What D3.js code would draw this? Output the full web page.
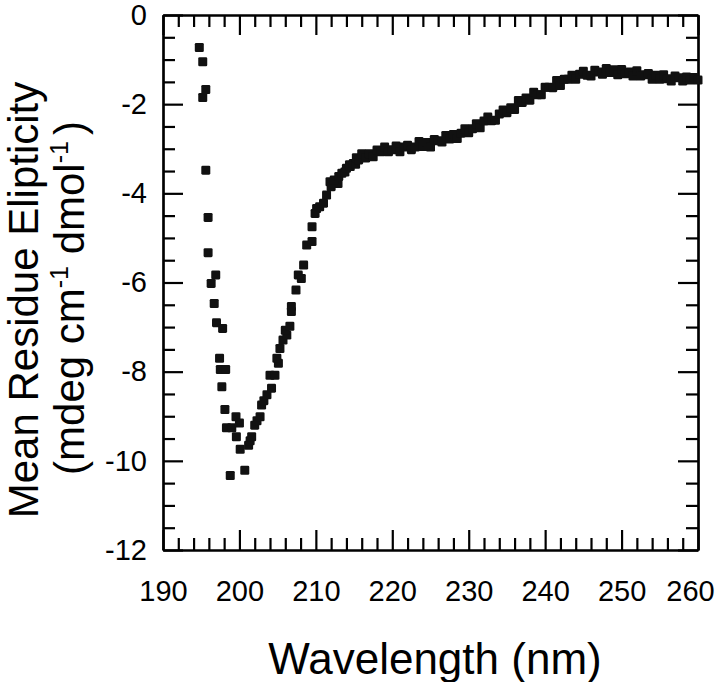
<!DOCTYPE html>
<html><head><meta charset="utf-8">
<script src="https://cdn.jsdelivr.net/npm/d3@7"></script>
<style>body{margin:0;background:#fff}</style>
</head><body>
<svg id="chart" width="720" height="682"></svg>
<script>
// CD spectrum points (wavelength in nm, mean residue ellipticity)
const wavelength = [
  194.75,195.2,195.6,195.2,195.6,195.9,195.9,196.9,196.3,196.7,197.0,197.8,197.4,197.5,198.2,197.7,198.1,198.3,199.0,
  199.55,200.0,199.6,198.8,200.1,200.7,201.2,201.4,201.6,202.0,202.3,202.7,202.9,203.2,203.6,204.2,204.0,204.65,205.1,
  204.9,205.3,205.7,206.2,206.0,206.6,206.8,206.8,207.4,208.1,207.7,208.4,208.8,209.5,209.5,209.9,210.1,210.5,211.0,
  211.4,212.9,211.85,212.0,212.4,213.0,213.4,213.8,214.0,214.4,214.5,214.9,215.2,215.3,215.6,
  216.0,216.5,217.0,217.5,218.0,218.5,219.0,219.5,220.0,220.5,221.0,221.5,222.0,222.5,223.0,223.5,224.0,224.5,
  225.0,225.5,226.0,226.5,227.0,227.5,228.0,228.5,229.0,229.5,230.0,230.5,231.0,231.5,232.0,232.5,233.0,233.5,
  234.0,234.5,235.0,235.5,236.0,236.5,237.0,237.5,238.0,238.5,239.0,239.5,240.0,240.5,241.0,241.5,242.0,242.5,
  243.0,243.5,244.0,244.5,245.0,245.5,246.0,246.5,247.0,247.5,248.0,248.5,249.0,249.5,250.0,250.5,251.0,251.5,
  252.0,252.5,253.0,253.5,254.0,254.5,255.0,255.5,256.0,256.5,257.0,257.5,258.0,258.5,259.0,259.5,260.0
];
const ellipticity = [
  -0.73,-1.05,-1.67,-1.85,-3.48,-4.54,-5.33,-5.83,-6.02,-6.47,-6.90,-7.03,-7.70,-7.95,-7.95,-8.34,-8.85,-9.26,-9.26,
  -9.01,-9.15,-9.46,-10.33,-9.74,-10.21,-9.65,-9.55,-9.46,-9.20,-9.10,-9.01,-8.75,-8.65,-8.52,-8.37,-8.08,-8.08,-7.81,
  -7.70,-7.48,-7.29,-7.18,-7.07,-6.98,-6.65,-6.54,-6.17,-5.91,-5.83,-5.61,-5.16,-5.08,-4.75,-4.45,-4.34,-4.30,-4.22,
  -4.04,-3.78,-3.74,-3.85,-3.70,-3.62,-3.55,-3.52,-3.44,-3.36,-3.40,-3.33,-3.35,-3.20,-3.25,
  -3.11,-3.21,-3.11,-3.18,-3.03,-3.07,-2.96,-3.07,-3.02,-2.94,-3.07,-2.96,-2.92,-3.02,-2.96,-2.84,-2.95,-2.86,
  -2.96,-2.79,-2.82,-2.85,-2.70,-2.78,-2.68,-2.77,-2.65,-2.55,-2.64,-2.55,-2.44,-2.53,-2.38,-2.29,-2.37,-2.36,
  -2.22,-2.13,-2.19,-2.08,-2.12,-1.92,-1.96,-1.86,-1.91,-1.73,-1.79,-1.79,-1.62,-1.62,-1.63,-1.47,-1.58,-1.44,
  -1.44,-1.35,-1.44,-1.33,-1.26,-1.35,-1.37,-1.24,-1.28,-1.33,-1.20,-1.29,-1.23,-1.34,-1.22,-1.32,-1.28,-1.37,
  -1.25,-1.37,-1.34,-1.31,-1.44,-1.35,-1.44,-1.34,-1.43,-1.48,-1.37,-1.41,-1.48,-1.39,-1.46,-1.40,-1.46
];
const xMajorTicks = [190,200,210,220,230,240,250,260];
const xMinorTicks = [192,194,196,198,202,204,206,208,212,214,216,218,222,224,226,228,232,234,236,238,242,244,246,248,252,254,256,258];
const yMajorTicks = [0,-2,-4,-6,-8,-10,-12];
const yMinorTicks = [-0.5,-1,-1.5,-2.5,-3,-3.5,-4.5,-5,-5.5,-6.5,-7,-7.5,-8.5,-9,-9.5,-10.5,-11,-11.5];
const xTitle = "Wavelength (nm)";
const yTitle1 = "Mean Residue Elipticity";

const svg = d3.select("#chart");
const L = 163, R = 698, T = 15, B = 550;
const x = d3.scaleLinear().domain([190, 260]).range([L, R]);
const y = d3.scaleLinear().domain([-12, 0]).range([B, T]);
const FONT = "'Liberation Sans', Arial, Helvetica, sans-serif";

function styleAxis(g) {
  g.selectAll("path.domain").attr("stroke", "#000").attr("stroke-width", 2.2);
  g.selectAll(".tick line").attr("stroke", "#000").attr("stroke-width", 2.2);
  g.selectAll(".tick text").attr("font-family", FONT).attr("font-size", 29).attr("fill", "#000");
}

// bottom
const bottomMajor = svg.append("g").attr("transform", `translate(0,${B})`)
  .call(d3.axisBottom(x).tickValues(xMajorTicks).tickSizeInner(-20).tickSizeOuter(0).tickPadding(30).tickFormat(d3.format("d")))
  .call(styleAxis);
// last label pulled in so it fits inside the picture
bottomMajor.selectAll(".tick").filter(d => d === 260).select("text").attr("dx", -8);
svg.append("g").attr("transform", `translate(0,${B})`)
  .call(d3.axisBottom(x).tickValues(xMinorTicks).tickSizeInner(-12).tickSizeOuter(0).tickFormat(""))
  .call(styleAxis);
// top
svg.append("g").attr("transform", `translate(0,${T})`)
  .call(d3.axisTop(x).tickValues(xMajorTicks).tickSizeInner(-20).tickSizeOuter(0).tickFormat(""))
  .call(styleAxis);
svg.append("g").attr("transform", `translate(0,${T})`)
  .call(d3.axisTop(x).tickValues(xMinorTicks).tickSizeInner(-12).tickSizeOuter(0).tickFormat(""))
  .call(styleAxis);
// left
svg.append("g").attr("transform", `translate(${L},0)`)
  .call(d3.axisLeft(y).tickValues(yMajorTicks).tickSizeInner(-20).tickSizeOuter(0).tickPadding(16).tickFormat(d3.format("d")))
  .call(styleAxis);
svg.append("g").attr("transform", `translate(${L},0)`)
  .call(d3.axisLeft(y).tickValues(yMinorTicks).tickSizeInner(-12).tickSizeOuter(0).tickFormat(""))
  .call(styleAxis);
// right
svg.append("g").attr("transform", `translate(${R},0)`)
  .call(d3.axisRight(y).tickValues(yMajorTicks).tickSizeInner(-20).tickSizeOuter(0).tickFormat(""))
  .call(styleAxis);
svg.append("g").attr("transform", `translate(${R},0)`)
  .call(d3.axisRight(y).tickValues(yMinorTicks).tickSizeInner(-12).tickSizeOuter(0).tickFormat(""))
  .call(styleAxis);

// use hyphen-minus for y tick labels
svg.selectAll(".tick text").each(function() {
  const t = d3.select(this); t.text(t.text().replace("\u2212", "-"));
});

// data points
const pts = wavelength.map((w, i) => ({w, v: ellipticity[i]}));
svg.append("g").selectAll("rect").data(pts).join("rect")
  .attr("x", d => x(d.w) - 4.5).attr("y", d => y(d.v) - 4.5)
  .attr("width", 9).attr("height", 9).attr("rx", 1.3)
  .attr("fill", "#111");

// x title
svg.append("text").attr("x", 435).attr("y", 674).attr("text-anchor", "middle")
  .attr("font-family", FONT).attr("font-size", 44).attr("fill", "#000").text(xTitle);

// y title (two lines)
const yt = svg.append("g").attr("transform", "rotate(-90)");
yt.append("text").attr("x", -300).attr("y", 38).attr("text-anchor", "middle")
  .attr("font-family", FONT).attr("font-size", 42).attr("fill", "#000").text(yTitle1);
const t2 = yt.append("text").attr("x", -298).attr("y", 84).attr("text-anchor", "middle")
  .attr("font-family", FONT).attr("font-size", 42).attr("fill", "#000");
t2.append("tspan").text("(mdeg cm");
t2.append("tspan").attr("font-size", 25).attr("dy", -16).text("-1");
t2.append("tspan").attr("dy", 16).text(" dmol");
t2.append("tspan").attr("font-size", 25).attr("dy", -16).text("-1");
t2.append("tspan").attr("dy", 16).attr("dx", 6).text(")");
</script>
</body></html>
